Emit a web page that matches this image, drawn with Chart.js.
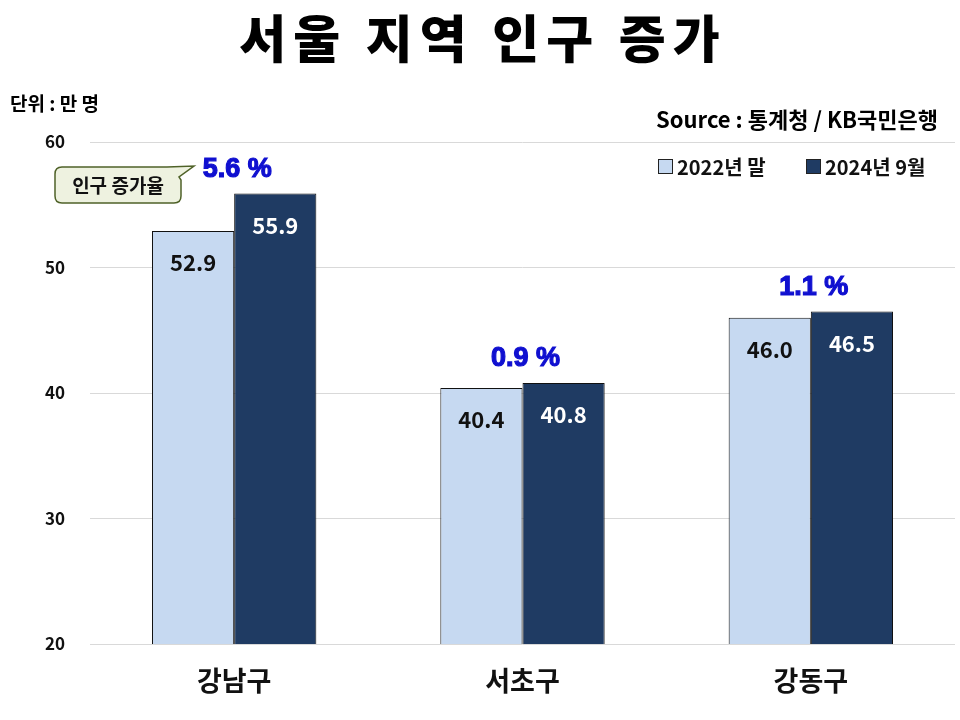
<!DOCTYPE html>
<html><head><meta charset="utf-8">
<script src="https://cdn.jsdelivr.net/npm/chart.js@4"></script>
<style>html,body{margin:0;padding:0;background:#fff}#wrap{width:960px;height:720px;position:relative}</style>
</head><body><div id="wrap"><canvas id="c" width="960" height="720"></canvas></div>
<script>
const categories = ['강남구', '서초구', '강동구'];
const series2022 = [52.9, 40.4, 46.0];
const series2024 = [55.9, 40.8, 46.5];
const growthLabels = ['5.6 %', '0.9 %', '1.1 %'];
const seriesNames = ['2022년 말', '2024년 9월'];
const yTicks = [20, 30, 40, 50, 60];

const KR = '"Noto Sans CJK KR", "Noto Sans", sans-serif';
const C_LIGHT = '#c6d9f1';
const C_DARK = '#1f3b63';

const overlay = {
  id: 'overlay',
  afterDatasetsDraw(chart) {
    const ctx = chart.ctx;
    ctx.save();
    chart.data.datasets.forEach((ds, di) => {
      const meta = chart.getDatasetMeta(di);
      meta.data.forEach((bar, i) => {
        ctx.font = 'bold 22px ' + KR;
        ctx.textAlign = 'center';
        ctx.textBaseline = 'middle';
        ctx.fillStyle = di === 0 ? '#111' : '#fff';
        ctx.fillText(ds.data[i].toFixed(1), bar.x, bar.y + 32);
      });
    });
    const m0 = chart.getDatasetMeta(0), m1 = chart.getDatasetMeta(1);
    growthLabels.forEach((t, i) => {
      const x = (m0.data[i].x + m1.data[i].x) / 2 + 3;
      const y = Math.min(m0.data[i].y, m1.data[i].y) - 24;
      ctx.font = 'bold 27px "Liberation Sans Narrow", "Liberation Sans", sans-serif';
      ctx.textAlign = 'center';
      ctx.textBaseline = 'middle';
      ctx.fillStyle = '#1010d0';
      ctx.strokeStyle = '#1010d0';
      ctx.lineWidth = 1.2;
      ctx.fillText(t, x, y);
      ctx.strokeText(t, x, y);
    });
    const bx = 55, by = 167, bw = 126, bh = 36, r = 7;
    ctx.beginPath();
    ctx.moveTo(bx + r, by);
    ctx.lineTo(bx + bw - 14, by);
    ctx.lineTo(bx + bw + 13, by - 1);
    ctx.lineTo(bx + bw - 2, by + 10);
    ctx.lineTo(bx + bw, by + r + 6);
    ctx.lineTo(bx + bw, by + bh - r);
    ctx.quadraticCurveTo(bx + bw, by + bh, bx + bw - r, by + bh);
    ctx.lineTo(bx + r, by + bh);
    ctx.quadraticCurveTo(bx, by + bh, bx, by + bh - r);
    ctx.lineTo(bx, by + r);
    ctx.quadraticCurveTo(bx, by, bx + r, by);
    ctx.closePath();
    ctx.fillStyle = '#eef2e0';
    ctx.fill();
    ctx.strokeStyle = '#4f6228';
    ctx.lineWidth = 1.5;
    ctx.stroke();
    ctx.fillStyle = '#111';
    ctx.font = 'bold 19px ' + KR;
    ctx.textAlign = 'center';
    ctx.textBaseline = 'middle';
    ctx.fillText('인구 증가율', bx + bw / 2, by + bh / 2 + 1);
    ctx.restore();
  },
  afterDraw(chart) {
    const ctx = chart.ctx;
    ctx.save();
    ctx.fillStyle = '#000';
    ctx.textBaseline = 'middle';
    ctx.textAlign = 'center';
    ctx.font = '900 51px ' + KR;
    ctx.letterSpacing = '7px';
    ctx.fillText('서울 지역 인구 증가', 483, 39);
    ctx.letterSpacing = '0px';
    ctx.textAlign = 'left';
    ctx.font = 'bold 19px ' + KR;
    ctx.fillText('단위 : 만 명', 10, 104);
    ctx.textAlign = 'right';
    ctx.font = 'bold 22px "Liberation Sans Narrow", ' + KR;
    ctx.fillText('Source : 통계청 / KB국민은행', 938, 120);
    const items = [[658, C_LIGHT, seriesNames[0]], [806, C_DARK, seriesNames[1]]];
    items.forEach(([x, col, name]) => {
      ctx.fillStyle = col;
      ctx.fillRect(x, 159, 15, 15);
      ctx.strokeStyle = '#222';
      ctx.lineWidth = 1;
      ctx.strokeRect(x + 0.5, 159.5, 14, 14);
      ctx.fillStyle = '#111';
      ctx.textAlign = 'left';
      ctx.font = 'bold 20px ' + KR;
      ctx.fillText(name, x + 19, 167);
    });
    ctx.restore();
  }
};

new Chart(document.getElementById('c'), {
  type: 'bar',
  data: {
    labels: categories,
    datasets: [
      { label: seriesNames[0], data: series2022, backgroundColor: C_LIGHT, borderColor: '#111', borderWidth: 1, borderSkipped: 'bottom' },
      { label: seriesNames[1], data: series2024, backgroundColor: C_DARK, borderColor: '#111', borderWidth: 1, borderSkipped: 'bottom' }
    ]
  },
  options: {
    responsive: false,
    animation: false,
    layout: { padding: { top: 142, left: 0, right: 5, bottom: 0 } },
    plugins: { legend: { display: false }, tooltip: { enabled: false }, title: { display: false } },
    datasets: { bar: { categoryPercentage: 0.57, barPercentage: 1.0 } },
    scales: {
      x: {
        grid: { display: false, drawTicks: false },
        border: { display: false },
        ticks: { color: '#111', font: { family: KR, size: 27, weight: 'bold' }, padding: 21 },
        afterFit(s) { s.height = 76; }
      },
      y: {
        min: 20, max: 60,
        afterBuildTicks(s) { s.ticks = yTicks.map(v => ({ value: v })); },
        grid: { color: '#d9d9d9', drawTicks: false, lineWidth: 1 },
        border: { display: false },
        ticks: { color: '#111', font: { family: KR, size: 17, weight: 'bold' }, padding: 25 },
        afterFit(s) { s.width = 90; }
      }
    }
  },
  plugins: [overlay]
});
</script>
</body></html>
